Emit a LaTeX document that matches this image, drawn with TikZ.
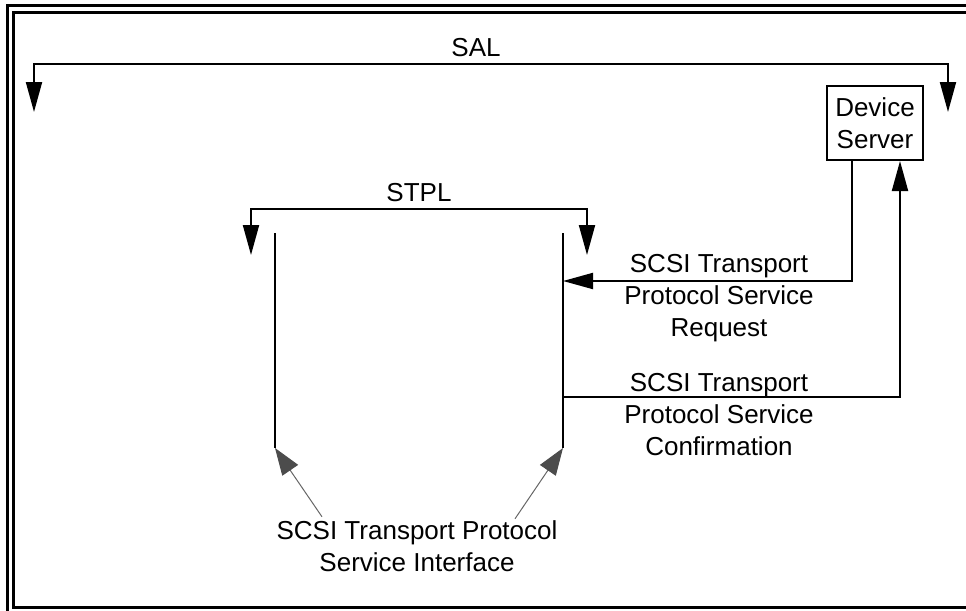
\documentclass[tikz,border=0pt]{standalone}
\usepackage{fontspec}
\setmainfont{Liberation Sans}
\usetikzlibrary{arrows.meta}

\begin{document}
\begin{tikzpicture}[
  x=0.5pt, y=-0.5pt,
  line width=1pt,
  every node/.style={font=\fontsize{13}{16}\selectfont, align=center},
  big arrow/.style={-{Triangle[length=15pt,width=8pt]}},
  big arrows/.style={{Triangle[length=15pt,width=8pt]}-{Triangle[length=15pt,width=8pt]}},
  grey arrow/.style={draw=black!60, line width=0.5pt,
    -{Triangle[length=13.5pt,width=9.5pt,color=black!70]}},
  ]
  \useasboundingbox (0,0) rectangle (966,611);
  \clip (0,0) rectangle (966,611);
  % frame
  \draw[line width=1.5pt] (7,5) rectangle (990,625);
  \draw[line width=1.5pt] (13,12) rectangle (984,607);

  \coordinate (sal west) at (34,112);
  \coordinate (sal east) at (948,112);
  \coordinate (sal mid) at (476,64);
  \draw[big arrows] (sal west) |- (sal mid) -| (sal east);
  \node[above] at (sal mid) {SAL};

  \coordinate (stpl west) at (251,255);
  \coordinate (stpl east) at (587,255);
  \coordinate (stpl mid) at (419,209);
  \draw[big arrows] (stpl west) |- (stpl mid) -| (stpl east);
  \node[above] at (stpl mid) {STPL};

  % service interface
  \coordinate (left top) at (275,233);
  \coordinate (left bot) at (275,448);
  \coordinate (right top) at (563,233);
  \coordinate (right bot) at (563,448);
  \draw (left top) -- (left bot);
  \draw (right top) -- (right bot);

  \node[draw, minimum width=48pt, minimum height=37pt] (ds) at (875,123) {Device\\Server};

  \coordinate (req end) at (563,281);
  \coordinate (conf start) at (563,397);
  \draw[big arrow] ([xshift=-11.5pt]ds.south) |- (req end);
  \draw[big arrow] (conf start) -| ([xshift=12.5pt]ds.south);
  \node (req) at (719,298) {SCSI Transport\\Protocol Service\\Request};
  \node (conf) at (719,415) {SCSI Transport\\Protocol Service\\Confirmation};

  \node (spi) at (417,546) {SCSI Transport Protocol\\Service Interface};
  \draw[grey arrow] ([xshift=-47.5pt,yshift=-2pt]spi.north) -- (left bot);
  \draw[grey arrow] ([xshift=49pt,yshift=-3pt]spi.north) -- (right bot);
\end{tikzpicture}
\end{document}
